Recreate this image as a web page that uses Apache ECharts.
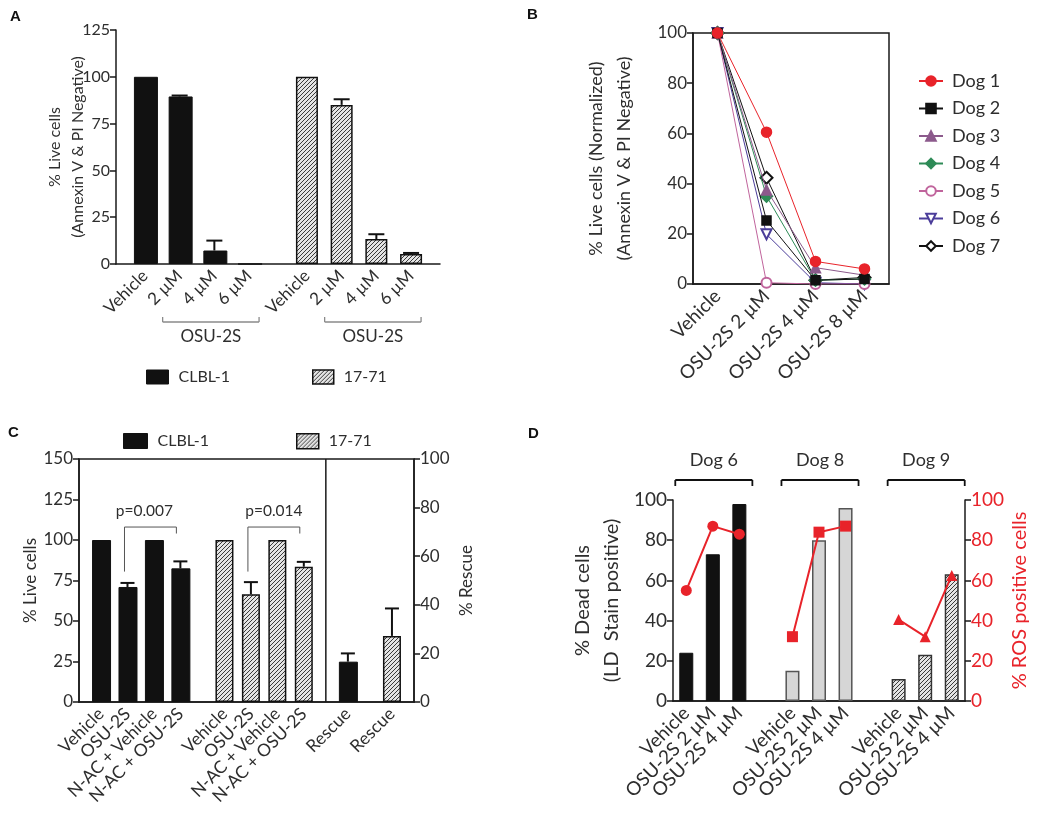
<!DOCTYPE html>
<html>
<head>
<meta charset="utf-8">
<script src="https://cdn.jsdelivr.net/npm/echarts@6.0.0/dist/echarts.min.js"></script>
<style>
html,body{margin:0;padding:0;background:#fff;}
#chart{width:1050px;height:820px;}
</style>
</head>
<body>
<div id="chart"></div>
<script>
// ================= DATA =================
const cellLines = ['CLBL-1', '17-71'];

// Panel A
const aCategories = ['Vehicle', '2 µM', '4 µM', '6 µM'];
const aGroupLabel = 'OSU-2S';
const aClbl = [100, 89.5, 7.2, 0];
const aClblErr = [0, 0.5, 5.3, 0];
const a1771 = [100, 85, 13.3, 5.3];
const a1771Err = [0, 3, 2.6, 0.6];
const aYTicks = [0, 25, 50, 75, 100, 125];

// Panel B
const bCategories = ['Vehicle', 'OSU-2S 2 µM', 'OSU-2S 4 µM', 'OSU-2S 8 µM'];
const dogNames = ['Dog 1', 'Dog 2', 'Dog 3', 'Dog 4', 'Dog 5', 'Dog 6', 'Dog 7'];
const dog1 = [100, 60.5, 9, 6];
const dog2 = [100, 25.3, 1.5, 2];
const dog3 = [100, 37.5, 6.5, 3.5];
const dog4 = [100, 35, 1.5, 2];
const dog5 = [100, 0.5, 0, 0];
const dog6 = [100, 19.8, 0.5, 0];
const dog7 = [100, 42.3, 1.5, 2.6];
const bYTicks = [0, 20, 40, 60, 80, 100];

// Panel C
const cCategories = ['Vehicle', 'OSU-2S', 'N-AC + Vehicle', 'N-AC + OSU-2S'];
const cRescueLabel = 'Rescue';
const cClbl = [100, 71, 100, 82.5];
const cClblErr = [0, 2.5, 0, 4.3];
const c1771 = [100, 66.5, 100, 83.5];
const c1771Err = [0, 7.5, 0, 3];
const cRescue = [16.6, 27.2];      // CLBL-1, 17-71
const cRescueErr = [3.4, 11.3];
const cPValues = ['p=0.007', 'p=0.014'];
const cYTicksLeft = [0, 25, 50, 75, 100, 125, 150];
const cYTicksRight = [0, 20, 40, 60, 80, 100];

// Panel D
const dGroups = ['Dog 6', 'Dog 8', 'Dog 9'];
const dCategories = ['Vehicle', 'OSU-2S 2 µM', 'OSU-2S 4 µM'];
const dDead6 = [24, 73, 98];
const dDead8 = [15, 80, 96];
const dDead9 = [11, 23, 63];
const dRos6 = [55, 87, 83];
const dRos8 = [32, 84, 87];
const dRos9 = [40.5, 32, 62.5];
const dYTicks = [0, 20, 40, 60, 80, 100];

// ================= LAYOUT (slot positions on fine category axes) =================
const aSlotCount = 28, aSlots = [[2, 5, 8, 11], [16, 19, 22, 25]];
const cSlotCount = 38, cSlots = [[2, 5, 8, 11], [16, 19, 22, 25]], cRescueSlots = [30, 35], cDividerAfter = 27;
const dSlotCount = 11, dSlots = [[0, 1, 2], [4, 5, 6], [8, 9, 10]];

// ================= HELPERS =================
const FONT = 'Lato';
const TXT = '#2e2e2e';
const AX = '#1a1a1a';
const RED = '#e8232a';

function hatch(bg, fg) {
  const s = 4;
  const c = document.createElement('canvas');
  c.width = s; c.height = s;
  const g = c.getContext('2d');
  g.fillStyle = bg; g.fillRect(0, 0, s, s);
  g.strokeStyle = fg; g.lineWidth = 1;
  g.beginPath();
  g.moveTo(0, s); g.lineTo(s, 0);
  g.moveTo(-1, 1); g.lineTo(1, -1);
  g.moveTo(s - 1, s + 1); g.lineTo(s + 1, s - 1);
  g.stroke();
  return { image: c, repeat: 'repeat' };
}
const HATCH = hatch('#e4e4e4', '#3a3a3a');

function slotAxis(count, groups) {
  const data = [], labels = [];
  for (let i = 0; i < count; i++) { data.push('s' + i); labels.push(''); }
  groups.forEach(g => g.slots.forEach((s, k) => { labels[s] = g.labels[k]; }));
  return { data, labels };
}
function fillSlots(count, slots, values) {
  const arr = new Array(count).fill('-');
  slots.forEach((s, k) => { arr[s] = values[k]; });
  return arr;
}
function errData(slots, values, errs) { return slots.map((s, k) => [s, values[k], errs[k]]); }
function errRender(capW) {
  return function (params, api) {
    const x = api.value(0), v = api.value(1), e = api.value(2);
    if (!(e > 0)) return null;
    const p0 = api.coord([x, v]), p1 = api.coord([x, v + e]);
    return {
      type: 'group', children: [
        { type: 'line', shape: { x1: p0[0], y1: p0[1], x2: p1[0], y2: p1[1] }, style: { stroke: '#111', lineWidth: 2 } },
        { type: 'line', shape: { x1: p1[0] - capW / 2, y1: p1[1], x2: p1[0] + capW / 2, y2: p1[1] }, style: { stroke: '#111', lineWidth: 2 } }
      ]
    };
  };
}
function catAxis(gridIndex, ax, fontSize, extra) {
  return Object.assign({
    type: 'category', gridIndex: gridIndex, data: ax.data, boundaryGap: true,
    axisLine: { lineStyle: { color: AX, width: 1.5 } },
    axisTick: { alignWithLabel: true, interval: (i) => ax.labels[i] !== '', length: 6, lineStyle: { color: AX, width: 1.5 } },
    axisLabel: {
      interval: 0, rotate: 45, formatter: (v, i) => ax.labels[i],
      fontSize: fontSize, fontFamily: FONT, color: TXT, margin: 9, hideOverlap: false
    },
    splitLine: { show: false }
  }, extra || {});
}
function valAxis(gridIndex, ticks, fontSize, extra) {
  return Object.assign({
    type: 'value', gridIndex: gridIndex, min: ticks[0], max: ticks[ticks.length - 1], interval: ticks[1] - ticks[0],
    axisLine: { show: true, lineStyle: { color: AX, width: 1.5 } },
    axisTick: { show: true, length: 6, lineStyle: { color: AX, width: 1.5 } },
    axisLabel: { fontSize: fontSize, fontFamily: FONT, color: TXT, margin: 6 },
    splitLine: { show: false },
    nameLocation: 'middle', nameRotate: 90, nameMoveOverlap: false,
    nameTextStyle: { fontFamily: FONT, color: TXT }
  }, extra || {});
}

// ================= AXES =================
const aAx = slotAxis(aSlotCount, [{ slots: aSlots[0], labels: aCategories }, { slots: aSlots[1], labels: aCategories }]);
const bAx = slotAxis(bCategories.length, [{ slots: [0, 1, 2, 3], labels: bCategories }]);
const cAx = slotAxis(cSlotCount, [{ slots: cSlots[0], labels: cCategories }, { slots: cSlots[1], labels: cCategories }, { slots: cRescueSlots, labels: [cRescueLabel, cRescueLabel] }]);
const dAx = slotAxis(dSlotCount, dSlots.map(s => ({ slots: s, labels: dCategories })));

const xAxes = [
  catAxis(0, aAx, 17),
  catAxis(1, bAx, 19),
  catAxis(2, cAx, 17.5),
  catAxis(3, dAx, 19),
  catAxis(3, dAx, 19, { position: 'top', axisLabel: { show: false }, axisTick: { alignWithLabel: true, interval: (i) => dAx.labels[i] !== '', length: 7, lineStyle: { color: AX, width: 1.5 } } })
];
const yAxes = [
  valAxis(0, aYTicks, 16, { name: '% Live cells\n(Annexin V & PI Negative)', nameGap: 27, nameTextStyle: { fontFamily: FONT, color: TXT, fontSize: 16, lineHeight: 23 } }),
  valAxis(1, bYTicks, 17, { name: '% Live cells (Normalized)\n(Annexin V & PI Negative)', nameGap: 55, nameTextStyle: { fontFamily: FONT, color: TXT, fontSize: 18, lineHeight: 28 } }),
  valAxis(2, cYTicksLeft, 17, { name: '% Live cells', nameGap: 40, nameTextStyle: { fontFamily: FONT, color: TXT, fontSize: 17 } }),
  valAxis(2, cYTicksRight, 17, { position: 'right', name: '% Rescue', nameGap: 44, nameTextStyle: { fontFamily: FONT, color: TXT, fontSize: 17 } }),
  valAxis(3, dYTicks, 19, { name: '% Dead cells\n(LD  Stain positive)', nameGap: 47, nameTextStyle: { fontFamily: FONT, color: TXT, fontSize: 20, lineHeight: 29 } }),
  valAxis(3, dYTicks, 19, { position: 'right', name: '% ROS positive cells', nameGap: 45, axisLabel: { fontSize: 19, fontFamily: FONT, color: RED, margin: 6 }, nameTextStyle: { fontFamily: FONT, color: RED, fontSize: 20 } })
];

// ================= SERIES =================
const series = [];
function add(s) { series.push(s); return series.length - 1; }
const blackBar = { color: '#111', borderColor: '#111', borderWidth: 1 };
const hatchBar = { color: HATCH, borderColor: '#111', borderWidth: 1.5 };

// Panel A
const iA0 = add({ type: 'bar', name: cellLines[0], xAxisIndex: 0, yAxisIndex: 0, barWidth: 24, barGap: '-100%', data: fillSlots(aSlotCount, aSlots[0], aClbl), itemStyle: blackBar });
add({ type: 'bar', name: cellLines[1], xAxisIndex: 0, yAxisIndex: 0, barWidth: 22, barGap: '-100%', data: fillSlots(aSlotCount, aSlots[1], a1771), itemStyle: hatchBar });
add({ type: 'custom', xAxisIndex: 0, yAxisIndex: 0, renderItem: errRender(16), data: errData(aSlots[0], aClbl, aClblErr).concat(errData(aSlots[1], a1771, a1771Err)), z: 5, silent: true });

// Panel B
const dogData = [dog1, dog2, dog3, dog4, dog5, dog6, dog7];
const dogStyle = [
  { color: '#e8232a', symbol: 'circle', size: 10 },
  { color: '#111111', symbol: 'rect', size: 9 },
  { color: '#8c5a8c', symbol: 'triangle', size: 10 },
  { color: '#2e8b57', symbol: 'diamond', size: 12 },
  { color: '#c0649c', symbol: 'emptyCircle', size: 10 },
  { color: '#4b3d9a', symbol: 'emptyTriangle', size: 10, rotate: 180 },
  { color: '#111111', symbol: 'emptyDiamond', size: 12 }
];
dogNames.forEach((n, k) => {
  const st = dogStyle[k];
  add({
    type: 'line', name: n, xAxisIndex: 1, yAxisIndex: 1, data: dogData[k],
    symbol: st.symbol, symbolSize: st.size, symbolRotate: st.rotate || 0, showAllSymbol: true,
    lineStyle: { color: st.color, width: 1 }, itemStyle: { color: st.color, borderColor: st.color, borderWidth: 1.5 },
    z: 10 - k
  });
});

// Panel C
const iC0 = add({ type: 'bar', name: cellLines[0], xAxisIndex: 2, yAxisIndex: 2, barWidth: 19, barGap: '-100%', data: fillSlots(cSlotCount, cSlots[0], cClbl), itemStyle: blackBar });
add({ type: 'bar', name: cellLines[1], xAxisIndex: 2, yAxisIndex: 2, barWidth: 18, barGap: '-100%', data: fillSlots(cSlotCount, cSlots[1], c1771), itemStyle: hatchBar });
add({ type: 'bar', name: cellLines[0], xAxisIndex: 2, yAxisIndex: 3, barWidth: 19, barGap: '-100%', data: fillSlots(cSlotCount, [cRescueSlots[0]], [cRescue[0]]), itemStyle: blackBar });
add({ type: 'bar', name: cellLines[1], xAxisIndex: 2, yAxisIndex: 3, barWidth: 18, barGap: '-100%', data: fillSlots(cSlotCount, [cRescueSlots[1]], [cRescue[1]]), itemStyle: hatchBar });
add({ type: 'custom', xAxisIndex: 2, yAxisIndex: 2, renderItem: errRender(14), data: errData(cSlots[0], cClbl, cClblErr).concat(errData(cSlots[1], c1771, c1771Err)), z: 5, silent: true });
add({ type: 'custom', xAxisIndex: 2, yAxisIndex: 3, renderItem: errRender(14), data: errData(cRescueSlots, cRescue, cRescueErr), z: 5, silent: true });

// Panel D
const dDead = [dDead6, dDead8, dDead9];
const dRos = [dRos6, dRos8, dRos9];
const dBarStyle = [
  { color: '#111', borderColor: '#111', borderWidth: 1 },
  { color: '#d6d6d6', borderColor: '#555', borderWidth: 1.5 },
  { color: HATCH, borderColor: '#333', borderWidth: 1.5 }
];
const dRosSymbol = ['circle', 'rect', 'triangle'];
let iD0 = -1;
dGroups.forEach((g, k) => {
  const idx = add({ type: 'bar', name: 'Dead ' + g, xAxisIndex: 3, yAxisIndex: 4, barWidth: 14, barGap: '-100%', data: fillSlots(dSlotCount, dSlots[k], dDead[k]), itemStyle: dBarStyle[k] });
  if (k === 0) iD0 = idx;
});
dGroups.forEach((g, k) => {
  add({
    type: 'line', name: 'ROS ' + g, xAxisIndex: 3, yAxisIndex: 5, data: fillSlots(dSlotCount, dSlots[k], dRos[k]),
    symbol: dRosSymbol[k], symbolSize: 11, showAllSymbol: true, connectNulls: false,
    lineStyle: { color: RED, width: 2 }, itemStyle: { color: RED }, z: 6
  });
});

// ================= LEGENDS =================
function oneLegend(name, left, top, w, h, style) {
  return {
    data: [{ name: name, icon: 'rect', itemStyle: style }], left: left, top: top, itemWidth: w, itemHeight: h,
    selectedMode: false, padding: 0, textStyle: { fontFamily: FONT, fontSize: 16, color: TXT, padding: [0, 0, 0, 5] }
  };
}
const legends = [
  oneLegend(cellLines[0], 146, 369, 22, 14, { color: '#111', borderColor: '#111', borderWidth: 1 }),
  oneLegend(cellLines[1], 312, 369, 21, 14, { color: HATCH, borderColor: '#111', borderWidth: 1.5 }),
  oneLegend(cellLines[0], 123, 433, 24, 15, { color: '#111', borderColor: '#111', borderWidth: 1 }),
  oneLegend(cellLines[1], 296, 433, 22, 15, { color: HATCH, borderColor: '#111', borderWidth: 1.5 }),
  {
    data: dogNames, orient: 'vertical', left: 918, top: 72, itemWidth: 24, itemHeight: 12, itemGap: 9.5,
    selectedMode: false, padding: 0, textStyle: { fontFamily: FONT, fontSize: 18, color: TXT, lineHeight: 17, padding: [0, 0, 0, 4] }
  }
];

const option = {
  animation: false,
  backgroundColor: '#ffffff',
  textStyle: { fontFamily: FONT },
  grid: [
    { left: 116, top: 30, width: 324, height: 234, outerBoundsMode: 'none' },
    { left: 693, top: 33, width: 196, height: 251, show: true, borderColor: AX, borderWidth: 1.5, outerBoundsMode: 'none' },
    { left: 79, top: 459, width: 335, height: 243, show: true, borderColor: AX, borderWidth: 1.5, outerBoundsMode: 'none' },
    { left: 673, top: 500, width: 292, height: 201, outerBoundsMode: 'none' }
  ],
  xAxis: xAxes,
  yAxis: yAxes,
  legend: legends,
  series: series
};

const chart = echarts.init(document.getElementById('chart'), null, { renderer: 'canvas' });
chart.setOption(option);

// ================= ANNOTATIONS (positioned through axes) =================
const P = (si, x, y) => chart.convertToPixel({ seriesIndex: si }, [x, y]);
const g = [];
const lineEl = (x1, y1, x2, y2, color, w) => ({ type: 'line', silent: true, shape: { x1, y1, x2, y2 }, style: { stroke: color, lineWidth: w } });
const textEl = (x, y, text, size, color, align, weight, fam) => ({ type: 'text', silent: true, x, y, style: { text, fontSize: size, fill: color, fontFamily: fam || FONT, fontWeight: weight || 'normal', align: align || 'center', verticalAlign: 'middle' } });

// Panel letters
g.push(textEl(10, 17, 'A', 15, '#111', 'left', 'bold', 'Liberation Sans'));
g.push(textEl(527, 15, 'B', 15, '#111', 'left', 'bold', 'Liberation Sans'));
g.push(textEl(8, 433, 'C', 15, '#111', 'left', 'bold', 'Liberation Sans'));
g.push(textEl(528, 434, 'D', 15, '#111', 'left', 'bold', 'Liberation Sans'));

// Panel A: OSU-2S brackets
aSlots.forEach(sl => {
  const xl = P(iA0, sl[1], 0)[0] - 17, xr = P(iA0, sl[3], 0)[0] + 10;
  const y = 322;
  g.push(lineEl(xl, y, xr, y, '#8a8a8a', 1.3));
  g.push(lineEl(xl, y, xl, y - 5, '#8a8a8a', 1.3));
  g.push(lineEl(xr, y, xr, y - 5, '#8a8a8a', 1.3));
  g.push(textEl((xl + xr) / 2, 337, aGroupLabel, 17, TXT));
});

// Panel C: divider and p-value brackets
{
  const x1 = P(iC0, cDividerAfter, 0)[0], x2 = P(iC0, cDividerAfter + 1, 0)[0];
  const xm = (x1 + x2) / 2;
  g.push(lineEl(xm, P(iC0, 0, 150)[1], xm, P(iC0, 0, 0)[1], AX, 1.5));
  cSlots.forEach((sl, k) => {
    const xl = P(iC0, sl[1], 0)[0] - 3, xr = P(iC0, sl[3], 0)[0] - 4;
    const yTop = P(iC0, 0, 108)[1], yL = P(iC0, 0, 80.5)[1], yR = P(iC0, 0, 104)[1];
    g.push(lineEl(xl, yL, xl, yTop, '#555', 1));
    g.push(lineEl(xl, yTop, xr, yTop, '#555', 1));
    g.push(lineEl(xr, yTop, xr, yR, '#555', 1));
    g.push(textEl((xl + xr) / 2 - (k === 0 ? 6 : 0), P(iC0, 0, 118)[1], cPValues[k], 15.5, TXT));
  });
}

// Panel D: dog group brackets
dSlots.forEach((sl, k) => {
  const xl = P(iD0, sl[0], 0)[0] - 11, xr = P(iD0, sl[2], 0)[0] + 13;
  const y = 480;
  g.push(lineEl(xl, y, xr, y, '#111', 1.8));
  g.push(lineEl(xl, y, xl, y + 6, '#111', 1.8));
  g.push(lineEl(xr, y, xr, y + 6, '#111', 1.8));
  g.push(textEl((xl + xr) / 2, 460, dGroups[k], 18, TXT));
});

chart.setOption({ graphic: { elements: g } });
</script>
</body>
</html>
